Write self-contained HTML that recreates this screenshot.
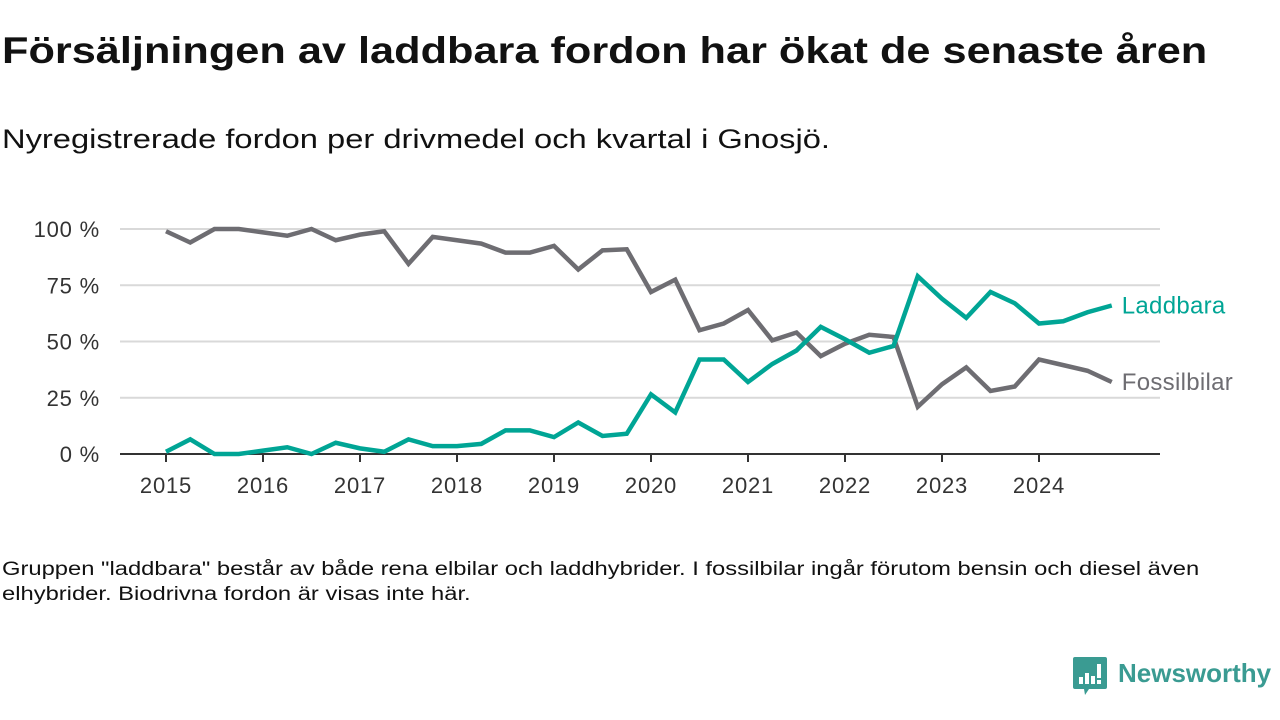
<!DOCTYPE html>
<html><head><meta charset="utf-8"><style>
body{margin:0;width:1280px;height:720px;background:#fff;font-family:"Liberation Sans",sans-serif;overflow:hidden;position:relative;color:#111}
.t{position:absolute;left:2px;top:30px;font-size:37px;font-weight:bold;margin:0;white-space:nowrap;transform:scaleX(1.17);transform-origin:0 0}
.s{position:absolute;left:2px;top:124px;font-size:27px;white-space:nowrap;transform:scaleX(1.21);transform-origin:0 0}
.n{position:absolute;left:2px;top:557px;font-size:19px;line-height:25px;width:965px;transform:scaleX(1.25);transform-origin:0 0}
</style></head><body>
<h1 class="t">Försäljningen av laddbara fordon har ökat de senaste åren</h1>
<div class="s">Nyregistrerade fordon per drivmedel och kvartal i Gnosjö.</div>
<svg id="c" width="1280" height="720" style="position:absolute;left:0;top:0"></svg>
<div class="n">Gruppen "laddbara" består av både rena elbilar och laddhybrider. I fossilbilar ingår förutom bensin och diesel även elhybrider. Biodrivna fordon är visas inte här.</div>
<div style="position:absolute;left:1073px;top:657px;">
<svg width="36" height="40" style="position:absolute;left:0;top:0"><path d="M2 0h30a2 2 0 0 1 2 2v28a2 2 0 0 1-2 2H16l-4 6-1-6H2a2 2 0 0 1-2-2V2a2 2 0 0 1 2-2z" fill="#3a9b92"/><rect x="6" y="20" width="4" height="7" fill="#fff"/><rect x="12" y="16" width="4" height="11" fill="#fff"/><rect x="18" y="19" width="4" height="8" fill="#fff"/><rect x="24" y="7" width="4" height="14" fill="#fff"/><rect x="24" y="23" width="4" height="4" fill="#fff"/></svg>
<span style="position:absolute;left:45px;top:1px;font-size:26px;font-weight:bold;color:#3a9b92;white-space:nowrap">Newsworthy</span></div>
<script>
const years=["2015","2016","2017","2018","2019","2020","2021","2022","2023","2024"];
const yTicks=[0,25,50,75,100];
const laddbara=[1,6.5,0,0,1.5,3,0,5,2.5,1,6.5,3.5,3.5,4.5,10.5,10.5,7.5,14,8,9,26.5,18.5,42,42,32,40,46,56.5,51,45,48,79,69,60.5,72,67,58,59,63,66];
const fossil=[99,94,100,100,98.5,97,100,95,97.5,99,84.5,96.5,95,93.5,89.5,89.5,92.5,82,90.5,91,72,77.5,55,58,64,50.5,54,43.5,49,53,52,21,31,38.5,28,30,42,39.5,37,32];
const svg=document.getElementById('c'),NS='http://www.w3.org/2000/svg';
const x=i=>166+i*24.25, y=v=>454-v*2.25;
function mk(t,a,p){const e=document.createElementNS(NS,t);for(const k in a)e.setAttribute(k,a[k]);(p||svg).appendChild(e);return e;}
yTicks.forEach(v=>{
 if(v>0){const g=mk('line',{x1:120,x2:1160,y1:y(v),y2:y(v),stroke:'#d9d9d9','stroke-width':2});
 
 }
 const t=mk('text',{x:100,y:y(v)+8,'text-anchor':'end','font-size':22,'letter-spacing':0.8,fill:'#333','font-family':'Liberation Sans'});
 t.textContent=v+' %';
 
 
});
const ax=mk('line',{x1:120,x2:1160,y1:454,y2:454,stroke:'#333','stroke-width':2});


years.forEach((yr,k)=>{
 const xx=x(k*4);
 mk('line',{x1:xx,x2:xx,y1:454,y2:462,stroke:'#333','stroke-width':2});
 const t=mk('text',{x:xx,y:493,'text-anchor':'middle','font-size':22,'letter-spacing':0.8,fill:'#333','font-family':'Liberation Sans'});
 t.textContent=yr;
 
 
});
function line(d,col,name,label){
 const p=mk('polyline',{points:d.map((v,i)=>x(i)+','+y(v)).join(' '),fill:'none',stroke:col,'stroke-width':4.5,'stroke-linejoin':'miter'});
 
 
 const t=mk('text',{x:x(d.length-1)+10,y:y(d[d.length-1])+8,'font-size':24,'letter-spacing':0.3,fill:col,'font-family':'Liberation Sans'});
 t.textContent=label;
 
 
}
line(fossil,'#6e6d72','fossilbilar','Fossilbilar');
line(laddbara,'#00a595','laddbara','Laddbara');
</script>
</body></html>
